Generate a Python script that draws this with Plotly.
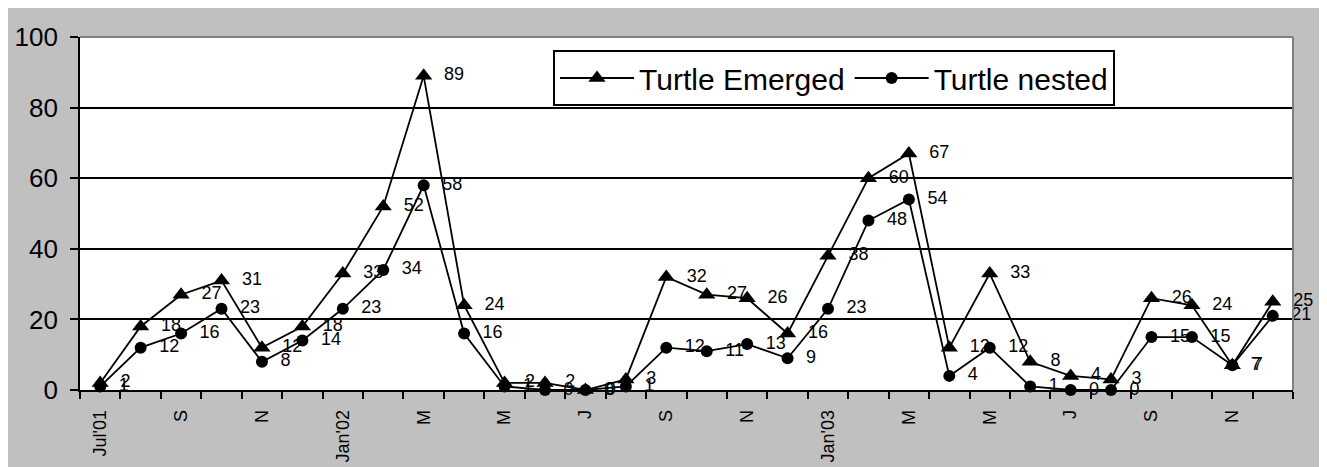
import plotly.graph_objects as go

months = ["Jul'01", "Aug'01", "Sep'01", "Oct'01", "Nov'01", "Dec'01",
          "Jan'02", "Feb'02", "Mar'02", "Apr'02", "May'02", "Jun'02",
          "Jul'02", "Aug'02", "Sep'02", "Oct'02", "Nov'02", "Dec'02",
          "Jan'03", "Feb'03", "Mar'03", "Apr'03", "May'03", "Jun'03",
          "Jul'03", "Aug'03", "Sep'03", "Oct'03", "Nov'03", "Dec'03"]
tick_text = ["Jul'01", "", "S", "", "N", "", "Jan'02", "", "M", "", "M", "",
             "J", "", "S", "", "N", "", "Jan'03", "", "M", "", "M", "",
             "J", "", "S", "", "N", ""]
emerged = [2, 18, 27, 31, 12, 18, 33, 52, 89, 24, 2, 2, 0, 3, 32, 27, 26, 16,
           38, 60, 67, 12, 33, 8, 4, 3, 26, 24, 7, 25]
nested = [1, 12, 16, 23, 8, 14, 23, 34, 58, 16, 1, 0, 0, 1, 12, 11, 13, 9,
          23, 48, 54, 4, 12, 1, 0, 0, 15, 15, 7, 21]

FONT = "Arial, Liberation Sans, sans-serif"
PAD = "\u00a0\u00a0"

fig = go.Figure()
fig.add_trace(go.Scatter(
    x=months, y=emerged, name="Turtle Emerged", mode="lines+markers+text",
    line=dict(color="black", width=1.8),
    marker=dict(symbol="triangle-up", size=15, color="black"),
    text=[PAD + str(v) for v in emerged], textposition="middle right",
    textfont=dict(family=FONT, size=18, color="black"),
    cliponaxis=False,
))
fig.add_trace(go.Scatter(
    x=months, y=nested, name="Turtle nested", mode="lines+markers+text",
    line=dict(color="black", width=1.8),
    marker=dict(symbol="circle", size=12, color="black"),
    text=[PAD + str(v) for v in nested], textposition="middle right",
    textfont=dict(family=FONT, size=18, color="black"),
    cliponaxis=False,
))

W, H = 1327, 467
OFF = 8  # page offset of the figure (body margin)
L, R, T, B = 72, 42, 29, 85
pw, ph = W - L - R, H - T - B

def px2x(p):
    return (p - OFF - L) / pw

def px2y(p):
    return (H - B - (p - OFF)) / ph

shapes = [
    dict(type="line", xref="paper", yref="paper", x0=0, x1=1, y0=1, y1=1,
         line=dict(color="#808080", width=2)),
    dict(type="line", xref="paper", yref="paper", x0=1, x1=1, y0=0, y1=1,
         line=dict(color="#808080", width=2)),
]

fig.update_layout(
    width=W, height=H,
    margin=dict(l=L, r=R, t=T, b=B, autoexpand=False),
    paper_bgcolor="#C0C0C0", plot_bgcolor="white",
    font=dict(family=FONT, color="black"),
    shapes=shapes,
    showlegend=True,
    legend=dict(
        orientation="h", x=px2x(553), xanchor="left", y=px2y(78), yanchor="middle",
        bgcolor="white", bordercolor="black", borderwidth=2,
        font=dict(family=FONT, size=30, color="black"),
        itemwidth=74,
    ),
    xaxis=dict(
        type="category", tickmode="array", tickvals=months, ticktext=tick_text,
        tickson="boundaries", ticks="outside", ticklen=7, tickwidth=1.5,
        tickcolor="black", tickangle=-90, showgrid=False,
        showline=True, linecolor="black", linewidth=1.8,
        tickfont=dict(family=FONT, size=18, color="black"),
        range=[-0.5, 29.5], ticklabelstandoff=11, automargin=False,
    ),
    yaxis=dict(
        range=[0, 100], tickmode="array", tickvals=[0, 20, 40, 60, 80, 100],
        ticks="outside", ticklen=8, tickwidth=1.5, tickcolor="black",
        showgrid=True, gridcolor="black", gridwidth=1.5,
        showline=True, linecolor="black", linewidth=1.8,
        tickfont=dict(family=FONT, size=26, color="black"),
        zeroline=False, ticklabelstandoff=7, automargin=False,
    ),
)

fig.write_html("out.html")
